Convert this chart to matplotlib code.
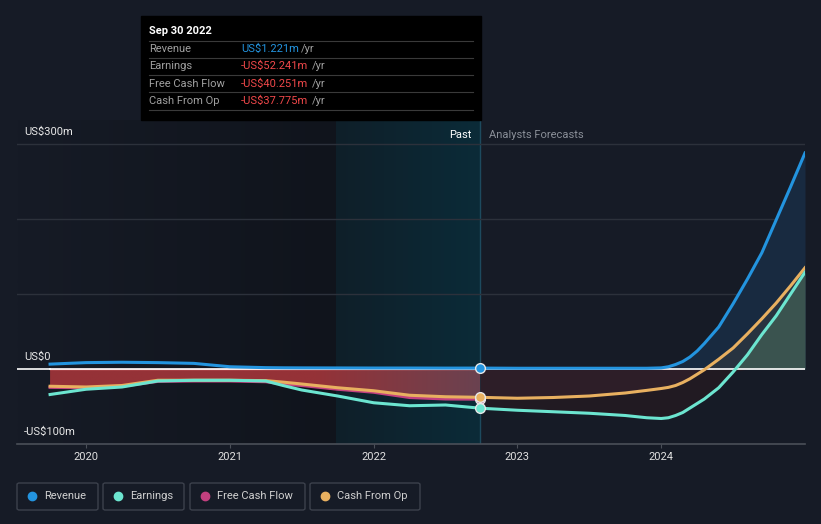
import numpy as np
import matplotlib.pyplot as plt
from matplotlib.patches import Rectangle, FancyBboxPatch
from matplotlib.colors import to_rgb

plt.rcParams['font.family'] = ['Roboto', 'DejaVu Sans']

# past data (decimal years, US$m)
past_x = [2019.75, 2020.0, 2020.25, 2020.5, 2020.75, 2021.0, 2021.25, 2021.37,
          2021.5, 2021.75, 2022.0, 2022.25, 2022.5, 2022.74]
past_revenue = [6.5, 8.5, 9.0, 8.5, 7.5, 3.0, 1.8, 1.6, 1.5, 1.4, 1.3, 1.3, 1.2, 1.221]
past_earnings = [-34, -27, -24, -16, -15, -15, -16, -22, -28, -36, -45, -49, -48, -52.241]
past_fcf = [-24.5, -25, -23, -16.5, -16, -16, -17, -20, -22, -27, -31, -38, -40, -40.251]
past_cfo = [-23, -24, -22, -15, -15, -15, -15.5, -17.5, -20, -25, -29, -35, -37, -37.775]

# analyst forecasts
fc_x = [2022.74, 2023.0, 2023.25, 2023.5, 2023.75, 2023.9, 2024.0, 2024.05, 2024.1,
        2024.15, 2024.2, 2024.25, 2024.3, 2024.4, 2024.5, 2024.6, 2024.7, 2024.8,
        2024.9, 2025.0]
fc_revenue = [1.221, 1.0, 1.0, 1.0, 1.0, 1.0, 1.5, 3, 6, 10, 16, 24, 34, 56, 87, 120,
              155, 199, 243, 288]
fc_earnings = [-52.241, -55, -57, -59, -62, -65, -66, -65, -62, -58, -52, -46, -40,
               -25, -4, 19, 46, 71, 100, 129]
fc_cfo = [-37.775, -39, -38, -36, -32, -28.5, -26, -24.5, -22, -18, -13, -7, -1,
          13, 28, 47, 67, 88, 111, 135]

year_ticks = [2020, 2021, 2022, 2023, 2024]
y_labels = ['US$300m', 'US$0', '-US$100m']
legend_names = ['Revenue', 'Earnings', 'Free Cash Flow', 'Cash From Op']

c_rev, c_earn, c_fcf, c_cfo = '#2394df', '#6ce5d0', '#c2407f', '#e8b060'
bg = '#161b26'
W, H = 821, 524

fig = plt.figure(figsize=(8.21, 5.24), dpi=100, facecolor=bg)
ax = fig.add_axes([17 / W, 80 / H, 788 / W, 324 / H])
ax.set_facecolor(bg)
ax.set_xlim(2019.52, 2025.0)
ax.set_ylim(-100, 332)
for s in ax.spines.values():
    s.set_visible(False)

# darker gradient on the past section, teal gradient on last year
grad = np.linspace(0, 1, 200)[None, :, None]
c1, c2 = np.array(to_rgb(bg)), np.array(to_rgb('#10141c'))
ax.imshow(c1 + (c2 - c1) * grad, extent=[2019.52, 2021.74, -100, 332],
          aspect='auto', zorder=0)
c1, c2 = np.array(to_rgb('#0f1f29')), np.array(to_rgb('#0b2b38'))
ax.imshow(c1 + (c2 - c1) * grad, extent=[2021.74, 2022.74, -100, 332],
          aspect='auto', zorder=0)
ax.axvline(2022.74, color='#1d4a5e', lw=1, zorder=1)

for v in [100, 200, 300]:
    ax.axhline(v, color='#2c313b', lw=1, zorder=1)
ax.axhline(-100, color='#4a4f58', lw=1.2, zorder=1, clip_on=False)

# past negative fill with a horizontal gradient
px = np.array(past_x)
low = np.minimum(np.array(past_fcf), np.array(past_cfo))
poly = ax.fill_between(px, 0, low, color='none', zorder=2)
r1, r2 = np.array(to_rgb('#953237')), np.array(to_rgb('#6a4250'))
t = np.clip((np.linspace(past_x[0], past_x[-1], 300) - 2021.6) / 1.14, 0, 1)
img = r1 + (r2 - r1) * t[:, None]
im = ax.imshow(img[None, :, :], extent=[past_x[0], past_x[-1], -60, 0],
               aspect='auto', zorder=2)
im.set_clip_path(poly.get_paths()[0], transform=ax.transData)
ax.plot(past_x, [0] * len(past_x), color='#e07a7a', lw=1, zorder=3)

# forecast fills
fx = np.array(fc_x)
fe, fc, fr = np.array(fc_earnings), np.array(fc_cfo), np.array(fc_revenue)
ax.fill_between(fx, 0, np.maximum(fr, 0), color='#182a40', lw=0, zorder=2)
ax.fill_between(fx, 0, np.maximum(fc, 0), color='#283340', lw=0, zorder=2)
ax.fill_between(fx, 0, np.maximum(fe, 0), color='#3a534f', lw=0, zorder=2)
ax.fill_between(fx, 0, np.minimum(fe, 0), color='#211a22', lw=0, zorder=2)
ax.fill_between(fx, 0, np.minimum(fc, 0), color='#2d1e28', lw=0, zorder=2)

ax.axhline(0, xmin=(past_x[0] - 2019.52) / 5.48, color='#ffffff', lw=1.2, zorder=3)
ax.plot([2019.52, past_x[0]], [0, 0], color='#ffffff', lw=1.2, zorder=3)

lw = 2.2
ax.plot(past_x, past_fcf, color=c_fcf, lw=lw, zorder=4)
ax.plot(past_x, past_cfo, color=c_cfo, lw=lw, zorder=5)
ax.plot(past_x, past_earnings, color=c_earn, lw=lw, zorder=5)
ax.plot(past_x, past_revenue, color=c_rev, lw=lw, zorder=5)
ax.plot(fc_x, fc_cfo, color=c_cfo, lw=lw, zorder=5)
ax.plot(fc_x, fc_earnings, color=c_earn, lw=lw, zorder=5)
ax.plot(fc_x, fc_revenue, color=c_rev, lw=lw, zorder=5)

for val, col in [(past_revenue[-1], c_rev), (past_fcf[-1], c_fcf),
                 (past_cfo[-1], c_cfo), (past_earnings[-1], c_earn)]:
    ax.plot(2022.74, val, 'o', ms=7, color=col, mec='#e8e8e8', mew=1, zorder=6)

ax.set_xticks(year_ticks)
ax.set_xticklabels([str(y) for y in year_ticks])
ax.set_yticks([])
ax.tick_params(axis='x', colors='#4a4f58', labelcolor='#e0e0e0', labelsize=8,
               length=3, pad=3)

ax.text(2022.68, 312, 'Past', color='#ffffff', fontsize=8, ha='right', va='center')
ax.text(2022.8, 312, 'Analysts Forecasts', color='#8a8f98', fontsize=8,
        ha='left', va='center')


def fxy(x, y):
    return x / W, 1 - y / H


for lab, ypx in zip(y_labels, [132, 357, 432]):
    fig.text(*fxy(24, ypx), lab, color='#e8e8e8', fontsize=8, va='center')

# tooltip
fig.patches.append(Rectangle(fxy(141, 120), 340 / W, 104 / H, color='#000000',
                             transform=fig.transFigure, zorder=10))
fig.text(*fxy(149, 31), 'Sep 30 2022', color='#ffffff', fontsize=8,
         fontweight='bold', va='center', zorder=11)
for ypx in [41, 58, 75, 92, 110]:
    fig.add_artist(plt.Line2D([149 / W, 473 / W], [1 - ypx / H] * 2,
                              color='#3a3a3a', lw=0.8, zorder=11))
rows = [('Revenue', 'US$1.221m', c_rev, 301),
        ('Earnings', '-US$52.241m', '#f0484a', 312),
        ('Free Cash Flow', '-US$40.251m', '#f0484a', 312),
        ('Cash From Op', '-US$37.775m', '#f0484a', 312)]
for i, (lab, val, col, xyr) in enumerate(rows):
    ypx = 49 + i * 17.3
    fig.text(*fxy(149, ypx), lab, color='#a0a0a0', fontsize=8, va='center', zorder=11)
    fig.text(*fxy(241, ypx), val, color=col, fontsize=8, va='center', zorder=11)
    fig.text(*fxy(xyr, ypx), '/yr', color='#a0a0a0', fontsize=8, va='center', zorder=11)

# legend boxes
boxes = [(17, 98), (103, 184), (190, 305), (310, 420)]
for name, col, (x0, x1) in zip(legend_names, [c_rev, c_earn, c_fcf, c_cfo], boxes):
    fig.patches.append(FancyBboxPatch(fxy(x0, 510), (x1 - x0) / W, 27 / H,
                                      boxstyle='round,pad=0,rounding_size=0.003',
                                      fc=bg, ec='#3c414c', lw=1,
                                      transform=fig.transFigure))
    fig.add_artist(plt.Line2D([(x0 + 15) / W], [1 - 496 / H], marker='o', ms=6,
                              color=col, lw=0))
    fig.text(*fxy(x0 + 27, 496), name, color='#d0d0d0', fontsize=8, va='center')

fig.savefig('out.png', dpi=100, facecolor=bg)
